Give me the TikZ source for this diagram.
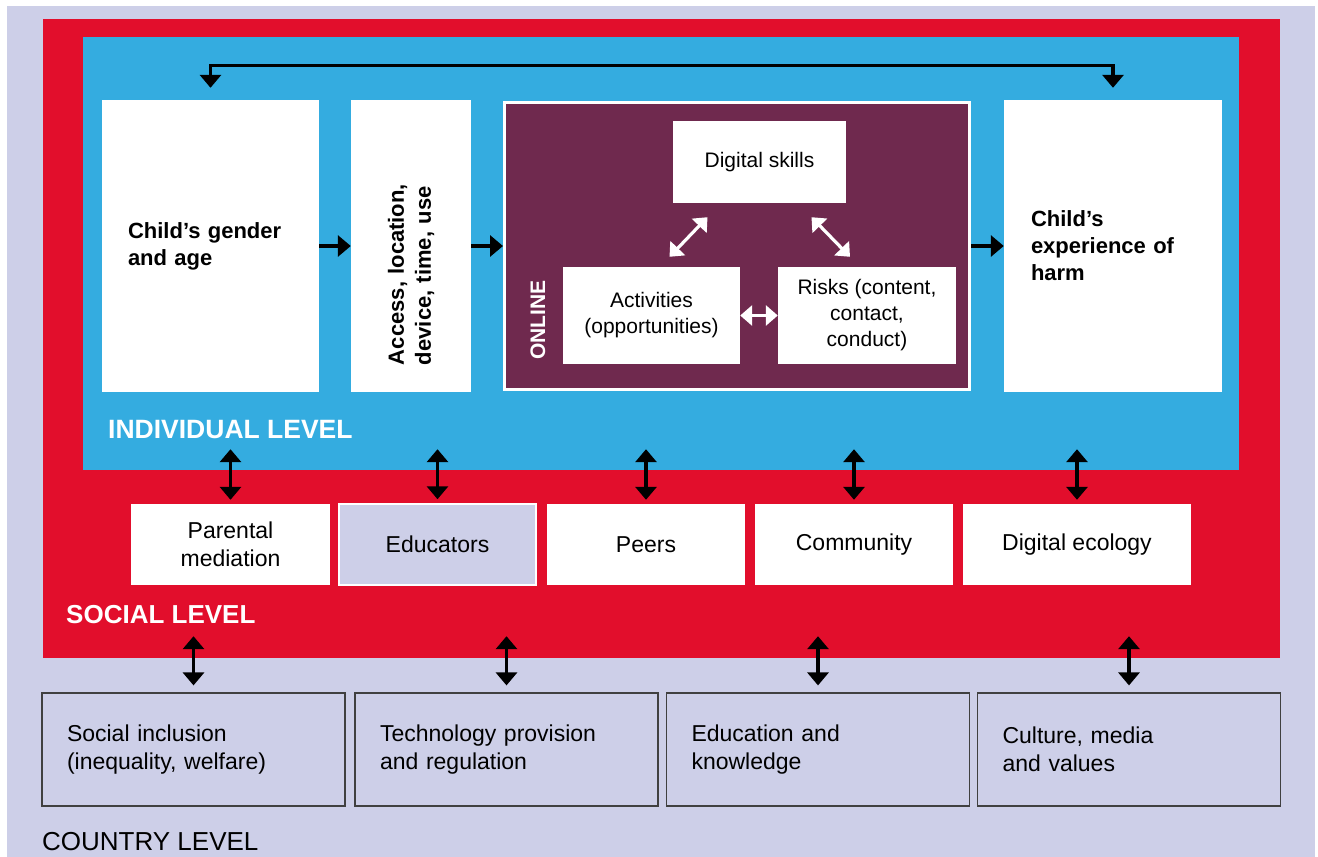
\documentclass[tikz,border=0pt]{standalone}
\usepackage{fontspec}
\setmainfont{Liberation Sans}
\usepackage{tikz}
\usetikzlibrary{arrows.meta}
\usepackage{xcolor}
\definecolor{lav}{RGB}{205,207,232}
\definecolor{socred}{RGB}{226,14,44}
\definecolor{indblue}{RGB}{52,172,224}
\definecolor{plum}{RGB}{111,41,78}

\begin{document}
\begin{tikzpicture}[x=1pt,y=-1pt,>={Triangle[width=21pt 0,length=13pt 0]}]
\tikzset{
    lvl/.style={%
        rectangle, draw=none,
        inner sep=0pt
        },
    ind/.style={%
        rectangle, fill=white,
        minimum height=292pt,
        inner ysep=0pt,
        align=left,
        font=\bfseries\fontsize{22}{27}\selectfont
        },
    onl/.style={%
        rectangle, fill=white,
        inner sep=0pt,
        align=center,
        font=\fontsize{21}{26}\selectfont
        },
    soc/.style={%
        rectangle, fill=white,
        minimum height=81pt,
        inner sep=0pt,
        align=center,
        font=\fontsize{23}{27.5}\selectfont
        },
    ctr/.style={%
        rectangle, draw=black!75, line width=1.2pt, fill=lav,
        minimum height=113pt,
        text width=253pt, inner xsep=25pt,
        align=left,
        font=\fontsize{23}{28}\selectfont
        },
    lvltxt/.style={%
        anchor=west, inner sep=0pt
        },
    dbl/.style={<->, line width=3.2pt},
    wht/.style={<->, white, line width=3.2pt,
        >={Triangle[width=20pt 0,length=12pt 0]}},
}
\useasboundingbox[fill=white] (0,0) rectangle (1318,857);
%%%LEVELS
\node[lvl, fill=lav, minimum width=1308pt, minimum height=851pt] (country) at (661,431.5) {};
\node[lvl, fill=socred, minimum width=1237pt, minimum height=639pt] (social) at (661.5,338.5) {};
\node[lvl, fill=indblue, minimum width=1156pt, minimum height=433pt] (indiv) at (661,253.5) {};
\node[lvltxt, text=white, font=\bfseries\fontsize{26.5}{30}\selectfont] (indivtxt) at (108,430) {INDIVIDUAL LEVEL};
\node[lvltxt, text=white, font=\bfseries\fontsize{26}{30}\selectfont] (socialtxt) at (66,615) {SOCIAL LEVEL};
\node[lvltxt, font=\fontsize{26}{30}\selectfont] (countrytxt) at (42,842) {COUNTRY LEVEL};
%%%INDIVIDUAL
\node[ind, text width=165pt, inner xsep=26pt] (gender) at (210.5,246) {Child’s gender\\and age};
\node[ind, rotate=90, minimum height=120pt, text width=238pt, inner xsep=27pt] (access) at (411,246) {Access, location,\\device, time, use};
\node[rectangle, draw=white, line width=3pt, fill=plum, minimum width=465pt, minimum height=287pt] (online) at (737,246) {};
\node[ind, text width=164pt, inner xsep=27pt] (harm) at (1113,246) {Child’s\\experience of\\harm};
\node[rotate=90, text=white, inner sep=0pt, font=\bfseries\fontsize{21}{24}\selectfont] (onlinetxt) at (538,320) {ONLINE};
\node[onl, minimum width=173pt, minimum height=82pt] (skills) at (759.5,162) {Digital skills};
\node[onl, minimum width=177pt, minimum height=97pt] (activ) at (651.5,315.5) {Activities\\(opportunities)};
\node[onl, minimum width=178pt, minimum height=97pt] (risks) at (867,315.5) {Risks (content,\\contact,\\conduct)};
%%%SOCIAL
\node[soc, minimum width=199pt] (parents) at (230.5,544.5) {Parental\\mediation};
\node[soc, minimum width=197pt, fill=lav, draw=white, line width=1.5pt] (educ) at (437.5,544.5) {Educators};
\node[soc, minimum width=198pt] (peers) at (646,544.5) {Peers};
\node[soc, minimum width=198pt] (commun) at (854,544.5) {Community};
\node[soc, minimum width=228pt] (ecology) at (1077,544.5) {Digital ecology};
%%%COUNTRY
\node[ctr] (inclusion) at (193.5,749.5) {Social inclusion\\(inequality, welfare)};
\node[ctr] (techprov) at (506.5,749.5) {Technology provision\\and regulation};
\node[ctr] (educknow) at (818,749.5) {Education and\\knowledge};
\node[ctr] (culture) at (1129,749.5) {Culture, media\\and values};
%%%RELATIONS
\draw[->, line width=3.2pt] (gender.east) -- (access.north);
\draw[->, line width=3.2pt] (access.south) -- (online.west);
\draw[->, line width=3.2pt] (online.east) -- (harm.west);
\draw[dbl] ([yshift=12pt]gender.north) -- ++(0,-22) -| ([yshift=12pt]harm.north);
\draw[wht] ([shift={(-52,14)}]skills.south) -- ([shift={(18,-10)}]activ.north);
\draw[wht] ([shift={(52,14)}]skills.south) -- ([shift={(-17,-10)}]risks.north);
\draw[wht] (activ.east) -- (risks.west);
\foreach \s in {parents,educ,peers,commun,ecology}
    \draw[dbl] ([yshift=4pt]\s.north) -- ([yshift=21pt]\s.north |- indiv.south);
\foreach \c in {inclusion,techprov,educknow,culture}
    \draw[dbl] ([yshift=7pt]\c.north) -- ([yshift=22pt]\c.north |- social.south);
\end{tikzpicture}
\end{document}
